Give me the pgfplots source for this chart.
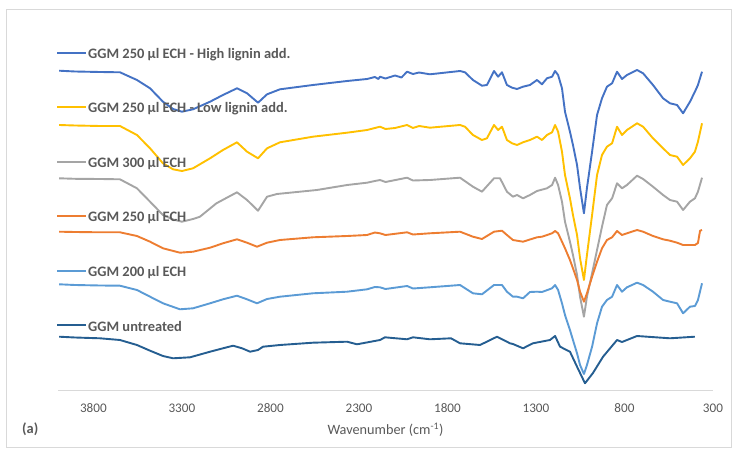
\documentclass[border=0pt]{standalone}
\usepackage{fontspec}
\setmainfont{Carlito}
\usepackage{pgfplots}
\pgfplotsset{compat=1.18}
\definecolor{cA}{HTML}{4472C4}
\definecolor{cB}{HTML}{FFC000}
\definecolor{cC}{HTML}{A5A5A5}
\definecolor{cD}{HTML}{ED7D31}
\definecolor{cE}{HTML}{5B9BD5}
\definecolor{cF}{HTML}{255E91}
\definecolor{txt}{HTML}{595959}
\definecolor{frame}{HTML}{D9D9D9}
\begin{document}
\begin{tikzpicture}
\useasboundingbox (0,0) rectangle (739bp,459bp);
\draw[frame, line width=0.8bp] (6bp,11.5bp) rectangle (731bp,449.7bp);
\begin{axis}[
  scale only axis, width=655bp, height=350.5bp,
  at={(58bp,68.5bp)}, anchor=south west,
  xmin=300, xmax=4000, x dir=reverse,
  ymin=-390.5, ymax=-40,
  axis x line*=bottom, axis y line=none,
  axis line style={draw=frame, line width=0.8bp},
  xtick={300,800,1300,1800,2300,2800,3300,3800},
  xtick style={draw=none},
  /pgf/number format/assume math mode=true,
  /pgf/number format/1000 sep={},
  xticklabel style={anchor=center, yshift=-17.5bp, font=\fontsize{13.2}{15}\selectfont, text=txt},
  xlabel={Wavenumber (cm\textsuperscript{-1})},
  xlabel style={at={(rel axis cs:0.5,0)}, anchor=center, yshift=-39.5bp, font=\fontsize{14.3}{16}\selectfont, text=txt},
  clip=false,
  every axis plot/.append style={line width=1.9bp, line join=round},
]
\addplot[cA] coordinates {(3994,-70.7) (3904,-71.5) (3763,-72) (3650,-72.3) (3554,-80) (3480,-88.3) (3407,-101.7) (3350,-109) (3300,-111.7) (3237,-109.3) (3141,-101.7) (3068,-95) (2989,-88.3) (2932,-93.3) (2870,-102.7) (2819,-94.3) (2746,-89.3) (2560,-85) (2367,-81) (2254,-79) (2210,-77) (2190,-79) (2181,-76.7) (2150,-78.5) (2096,-75.5) (2060,-77.5) (2028,-71.7) (1995,-74) (1960,-72.5) (1899,-74.3) (1729,-71) (1701,-72.3) (1656,-80) (1605,-85.7) (1577,-85) (1537,-71) (1514,-76.7) (1492,-72.3) (1464,-85) (1435,-87.7) (1407,-89) (1373,-86.7) (1334,-85) (1294,-80) (1266,-84.3) (1238,-78.3) (1209,-76.7) (1192,-71) (1175,-75) (1153,-88.3) (1136,-111.7) (1108,-131.7) (1091,-145) (1068,-165) (1051,-188) (1029,-213.3) (1012,-188) (983,-151.7) (955,-115) (927,-98.3) (899,-86.7) (870,-83.3) (842,-71.7) (814,-79) (786,-75) (729,-70) (695,-73.3) (639,-85) (582,-98.3) (543,-103.3) (503,-105) (469,-113.3) (430,-101.7) (402,-91.7) (385,-85) (362,-71.7)};
\addplot[cB] coordinates {(3994,-125) (3904,-125.5) (3763,-126) (3650,-126) (3554,-135) (3480,-148.3) (3407,-163.3) (3350,-169.3) (3300,-171) (3237,-168.3) (3141,-158.3) (3068,-150) (2989,-142.3) (2932,-151.7) (2870,-158.3) (2819,-148.3) (2746,-142.3) (2560,-136.7) (2367,-132.7) (2254,-130) (2210,-128) (2181,-126.7) (2150,-129) (2096,-128) (2028,-125) (1995,-128) (1960,-126) (1899,-127.7) (1729,-125) (1701,-126.7) (1656,-135) (1605,-140) (1577,-138.3) (1537,-125) (1514,-130) (1492,-126.7) (1464,-140) (1435,-143.3) (1407,-145) (1373,-142.3) (1334,-140) (1294,-136.7) (1266,-140) (1238,-135) (1209,-132.3) (1192,-125) (1175,-131.7) (1153,-151.7) (1136,-175) (1108,-198.3) (1091,-215) (1068,-235) (1051,-258.3) (1029,-280) (1012,-255) (983,-215) (955,-175) (927,-155) (899,-146.7) (870,-143.3) (842,-126.7) (814,-135) (786,-130) (729,-123.3) (695,-126.7) (639,-138.3) (582,-148.3) (543,-155) (503,-156.7) (469,-165) (430,-158.3) (402,-151.7) (385,-141.7) (362,-123.3)};
\addplot[cC] coordinates {(3994,-178.3) (3904,-178.8) (3763,-179) (3650,-179.3) (3554,-188.3) (3480,-201.7) (3407,-215) (3350,-219.5) (3300,-221.7) (3237,-219) (3198,-216.7) (3105,-203.3) (2989,-192.3) (2932,-200) (2870,-210.7) (2819,-196.7) (2763,-194) (2537,-190) (2367,-185) (2254,-182.7) (2210,-181) (2181,-180) (2150,-182) (2028,-177.7) (1995,-180.5) (1899,-180) (1729,-177.7) (1656,-186.7) (1605,-191.7) (1537,-178.3) (1503,-178.3) (1464,-191.7) (1430,-196.7) (1407,-195) (1373,-198.3) (1334,-195) (1294,-191) (1238,-188.3) (1209,-185) (1192,-177.7) (1175,-185) (1153,-201.7) (1136,-221.7) (1108,-241.7) (1091,-255) (1068,-275) (1051,-296.7) (1029,-316.7) (1012,-296.7) (983,-273.3) (955,-250) (927,-226.7) (899,-205) (870,-198.3) (842,-183.3) (814,-188.3) (786,-185) (729,-175.7) (695,-179) (639,-186.7) (582,-195) (543,-200) (503,-201.7) (469,-210) (430,-201.7) (402,-198.3) (385,-191.7) (362,-177.7)};
\addplot[cD] coordinates {(3994,-231.7) (3904,-232) (3763,-232.3) (3650,-232.3) (3554,-236) (3480,-241.7) (3407,-248.3) (3311,-252.7) (3237,-251.7) (3141,-247.7) (3068,-243.3) (2989,-239.3) (2932,-242.7) (2876,-246.7) (2819,-242.7) (2746,-240) (2560,-237.3) (2367,-236) (2254,-235) (2210,-232.5) (2181,-233.3) (2150,-235) (2028,-232.3) (1995,-234.5) (1899,-233.3) (1729,-231.7) (1656,-236.7) (1605,-239) (1537,-231.7) (1492,-230.7) (1464,-235) (1430,-240) (1407,-240.7) (1373,-241.7) (1334,-239.5) (1294,-237.3) (1266,-236.7) (1209,-233.3) (1192,-231) (1175,-233.3) (1153,-241.7) (1136,-248.3) (1108,-260) (1091,-268.3) (1068,-280) (1051,-291.7) (1029,-301.7) (1012,-293.3) (983,-276.7) (955,-261.7) (927,-248.3) (899,-240) (870,-237.3) (842,-231) (814,-235) (786,-233.3) (729,-230) (695,-231.7) (639,-236) (582,-239.3) (543,-240.7) (503,-242.7) (469,-245) (430,-245) (402,-245) (385,-243) (373,-230.7) (362,-230)};
\addplot[cE] coordinates {(3994,-284.3) (3904,-285) (3763,-285.5) (3650,-285.7) (3554,-290) (3480,-296.7) (3407,-303.3) (3311,-309.3) (3237,-308.3) (3141,-303.3) (3068,-299.3) (2989,-295.7) (2932,-299.3) (2876,-303.3) (2819,-299) (2746,-296.7) (2560,-293.3) (2367,-291.7) (2254,-289.3) (2210,-287) (2181,-287.3) (2150,-289) (2028,-286) (1995,-288.5) (1899,-287.3) (1729,-285) (1656,-293.3) (1605,-294.3) (1537,-285) (1492,-285) (1464,-291.7) (1430,-296.7) (1407,-296.7) (1373,-298.3) (1334,-292) (1294,-291.7) (1266,-292) (1209,-288.3) (1192,-285) (1175,-290) (1153,-303.3) (1136,-315) (1108,-330) (1091,-340) (1068,-353.3) (1051,-365) (1029,-374) (1012,-365) (983,-346.7) (955,-323.3) (927,-306.7) (899,-300) (870,-296.7) (842,-285) (814,-291.7) (786,-287.3) (729,-282.7) (695,-285) (639,-291.7) (582,-300) (543,-301.7) (503,-303.3) (469,-313.3) (430,-306.7) (402,-306) (385,-300) (362,-283.3)};
\addplot[cF] coordinates {(3994,-336.7) (3904,-337.5) (3763,-338.3) (3650,-340) (3554,-345) (3480,-350.7) (3407,-356) (3350,-358.3) (3254,-357.3) (3141,-351.7) (3068,-348.3) (3011,-345.7) (2960,-348.3) (2915,-351.7) (2870,-350) (2842,-346.7) (2746,-345) (2560,-342.7) (2367,-341.7) (2311,-344.3) (2181,-340) (2153,-337.3) (2028,-339.3) (1995,-337.3) (1899,-339.3) (1780,-338.3) (1729,-343.3) (1616,-345) (1520,-336.7) (1447,-343.3) (1430,-344) (1373,-348.3) (1317,-343.3) (1221,-340) (1192,-336) (1164,-346.7) (1108,-351.7) (1068,-366.7) (1023,-383.3) (978,-373) (921,-356.7) (842,-340) (814,-342) (729,-336) (543,-338.3) (402,-336.7)};
\end{axis}
\begin{scope}[every node/.style={anchor=west, inner sep=0pt, text=txt, font=\bfseries\fontsize{14.5}{16}\selectfont}]
\draw[cA, line width=1.9bp] (57bp,405.7bp) -- (86bp,405.7bp);
\node at (88bp,404.2bp) {GGM 250 µl ECH - High lignin add.};
\draw[cB, line width=1.9bp] (57bp,351.7bp) -- (86bp,351.7bp);
\node at (88bp,350.2bp) {GGM 250 µl ECH - Low lignin add.};
\draw[cC, line width=1.9bp] (57bp,296.7bp) -- (86bp,296.7bp);
\node at (88bp,295.2bp) {GGM 300 µl ECH};
\draw[cD, line width=1.9bp] (57bp,243bp) -- (86bp,243bp);
\node at (88bp,241.5bp) {GGM 250 µl ECH};
\draw[cE, line width=1.9bp] (57bp,188.3bp) -- (86bp,188.3bp);
\node at (88bp,186.8bp) {GGM 200 µl ECH};
\draw[cF, line width=1.9bp] (57bp,134bp) -- (86bp,134bp);
\node at (88bp,132.5bp) {GGM untreated};
\node at (22bp,30bp) {(a)};
\end{scope}
\end{tikzpicture}
\end{document}
